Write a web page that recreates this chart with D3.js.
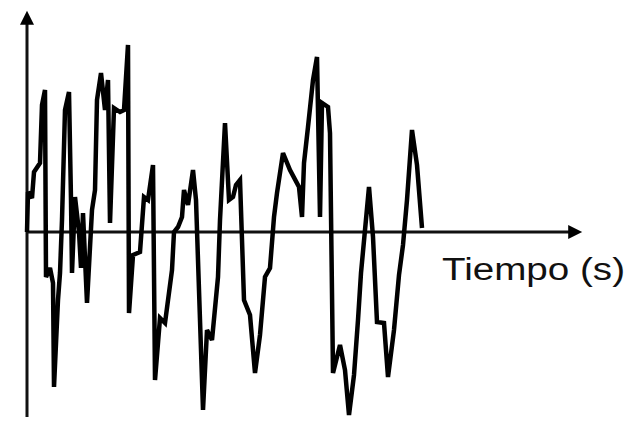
<!DOCTYPE html>
<html>
<head>
<meta charset="utf-8">
<script src="https://cdn.jsdelivr.net/npm/d3@7"></script>
<style>
  html, body { margin: 0; padding: 0; background: #fff; }
  svg { display: block; }
</style>
</head>
<body>
<svg id="chart" width="638" height="429"></svg>
<script>
// Signal samples: time (s) and amplitude (arbitrary units)
const time = [
  0, 0.05, 0.25, 0.35, 0.65, 0.75, 0.9, 0.95, 1.15, 1.3,
  1.35, 1.55, 1.65, 1.75, 1.9, 2.1, 2.2, 2.25, 2.4, 2.6,
  2.7, 2.8, 3.0, 3.25, 3.4, 3.5, 3.7, 3.9, 4.05, 4.15,
  4.35, 4.65, 4.85, 5.05, 5.1, 5.3, 5.65, 5.85, 6.05, 6.3,
  6.4, 6.65, 6.9, 7.25, 7.35, 7.55, 7.75, 7.85, 8.05, 8.3,
  8.45, 8.8, 9.0, 9.25, 9.55, 9.65, 9.9, 10.1, 10.3, 10.45,
  10.65, 10.85, 11.15, 11.4, 11.65, 11.9, 12.15, 12.35, 12.5, 12.8,
  13.15, 13.6, 13.75, 13.85, 14.05, 14.3, 14.5, 14.65, 14.75, 15.05,
  15.15, 15.3, 15.65, 15.9, 16.1, 16.35, 16.55, 16.7, 16.9, 17.1,
  17.3, 17.5, 17.85, 18.05, 18.35, 18.6, 18.8, 19.0, 19.25, 19.5,
  19.75
];
const amplitude = [
  0, 2.0, 1.7, 3.0, 3.45, 6.35, 7.1, -2.25, -1.8, -2.55,
  -7.75, -3.4, -2.05, 0.6, 6.1, 7.0, 1.6, -2.05, 1.75, 0,
  -1.8, 0.95, -3.55, 1.1, 2.1, 6.6, 7.95, 6.1, 7.6, 0.45,
  6.2, 6.0, 6.1, 9.35, -4.05, -1.15, -1.0, 1.75, 1.6, 3.35,
  -7.4, -4.3, -4.55, -1.9, 0, 0.25, 0.75, 2.1, 1.35, 3.1,
  1.6, -8.9, -4.9, -5.4, -2.25, 0.6, 5.45, 1.6, 1.75, 2.35,
  2.6, -3.4, -4.15, -7.05, -5.15, -2.25, -1.8, 0.75, 1.95, 3.95,
  3.1, 2.25, 0.75, 3.45, 5.25, 7.6, 8.75, 0.75, 6.45, 6.25,
  4.95, -7.05, -5.65, -6.9, -9.15, -7.15, -4.4, -2.05, 0.1, 2.25,
  -0.25, -4.5, -4.55, -7.25, -4.9, -2.15, -0.65, 1.6, 5.1, 3.35,
  0.2
];
const xAxisLabel = "Tiempo (s)";

const svg = d3.select("#chart");

const x = d3.scaleLinear().domain([0, 28]).range([27, 587]);
const y = d3.scaleLinear().domain([-9.25, 10.35]).range([417, 25]);

// arrowhead
const defs = svg.append("defs");
defs.append("marker")
  .attr("id", "arrow")
  .attr("viewBox", "0 0 10 10")
  .attr("refX", 2).attr("refY", 5)
  .attr("markerUnits", "userSpaceOnUse")
  .attr("markerWidth", 20).attr("markerHeight", 14)
  .attr("orient", "auto")
  .append("path")
  .attr("d", "M0,0 L10,5 L0,10 Z")
  .attr("fill", "#000");

// vertical axis (amplitude)
svg.append("line")
  .attr("x1", x(0)).attr("x2", x(0))
  .attr("y1", y.range()[0]).attr("y2", y.range()[1] - 3)
  .attr("stroke", "#111").attr("stroke-width", 3)
  .attr("marker-end", "url(#arrow)");

// horizontal axis (time)
svg.append("line")
  .attr("x1", x(0)).attr("x2", x.range()[1] - 16)
  .attr("y1", y(0)).attr("y2", y(0))
  .attr("stroke", "#111").attr("stroke-width", 3)
  .attr("marker-end", "url(#arrow)");

// signal trace
const line = d3.line()
  .x((d, i) => x(time[i]))
  .y(d => y(d));

svg.append("path")
  .datum(amplitude)
  .attr("d", line)
  .attr("fill", "none")
  .attr("stroke", "#000")
  .attr("stroke-width", 4.5)
  .attr("stroke-linejoin", "miter")
  .attr("stroke-miterlimit", 3);

// axis title
svg.append("text")
  .attr("x", 442).attr("y", 280)
  .attr("font-family", "Liberation Sans, Arial, sans-serif")
  .attr("font-size", 31)
  .attr("textLength", 183)
  .attr("lengthAdjust", "spacingAndGlyphs")
  .attr("fill", "#111")
  .text(xAxisLabel);
</script>
</body>
</html>
